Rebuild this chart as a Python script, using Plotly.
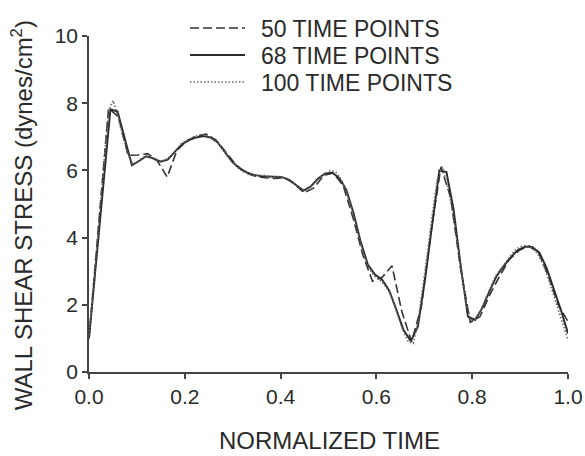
import plotly.graph_objects as go

# ---- data ----
n50 = 50
y50 = [1.0, 4.45, 7.85, 7.6, 6.45, 6.46, 6.5, 6.28, 5.8, 6.6,
       6.88, 7.02, 7.08, 6.9, 6.55, 6.18, 5.93, 5.83, 5.78, 5.76,
       5.78, 5.6, 5.33, 5.48, 5.85, 5.92, 5.55, 4.6, 3.5, 2.7,
       2.82, 3.16, 1.8, 0.9, 1.95, 4.2, 6.1, 5.2, 3.1, 1.48,
       1.65, 2.3, 2.85, 3.35, 3.62, 3.75, 3.55, 2.85, 2.0, 1.5]

n68 = 68
y68 = [1.0, 3.3, 5.6, 7.82, 7.75, 6.95, 6.15, 6.28, 6.42, 6.36,
       6.26, 6.32, 6.55, 6.78, 6.9, 6.98, 7.02, 6.98, 6.83, 6.55,
       6.26, 6.07, 5.95, 5.87, 5.83, 5.82, 5.81, 5.80, 5.72, 5.57,
       5.40, 5.52, 5.75, 5.90, 5.93, 5.78, 5.42, 4.73, 3.88, 3.2,
       2.9, 2.75, 2.42, 1.85, 1.25, 0.92, 1.35, 2.75, 4.45, 6.0,
       5.95, 4.83, 3.15, 1.65, 1.55, 1.9, 2.4, 2.85, 3.15, 3.42,
       3.63, 3.73, 3.72, 3.55, 3.1, 2.5, 1.85, 1.15]

n100 = 100
y100 = [1.0, 2.7, 4.4, 6.1, 7.75, 8.08, 7.6, 7.0, 6.5, 6.2,
        6.25, 6.38, 6.42, 6.36, 6.3, 6.27, 6.33, 6.45, 6.62, 6.78,
        6.88, 6.95, 7.02, 7.06, 7.05, 7.0, 6.9, 6.75, 6.55, 6.35,
        6.18, 6.05, 5.95, 5.9, 5.86, 5.85, 5.86, 5.82, 5.83, 5.82,
        5.8, 5.75, 5.65, 5.55, 5.43, 5.4, 5.52, 5.68, 5.82, 5.92,
        6.0, 5.95, 5.75, 5.45, 5.0, 4.45, 3.9, 3.4, 3.05, 2.85,
        2.75, 2.6, 2.4, 2.05, 1.6, 1.2, 0.9, 0.85, 1.5, 2.5,
        3.6, 4.75, 5.75, 6.12, 5.6, 4.9, 3.9, 2.9, 2.0, 1.55,
        1.6, 1.85, 2.2, 2.55, 2.85, 3.05, 3.25, 3.45, 3.62, 3.72,
        3.76, 3.74, 3.65, 3.45, 3.15, 2.75, 2.3, 1.85, 1.4, 0.95]

x50 = [k / (n50 - 1) for k in range(n50)]
x68 = [k / (n68 - 1) for k in range(n68)]
x100 = [k / (n100 - 1) for k in range(n100)]

series_names = ["50 TIME POINTS", "68 TIME POINTS", "100 TIME POINTS"]
y_ticks = [0, 2, 4, 6, 8, 10]
x_ticks = [0.0, 0.2, 0.4, 0.6, 0.8, 1.0]
x_title = "NORMALIZED TIME"
y_title = "WALL SHEAR STRESS (dynes/cm<sup>2</sup>)"

FONT = "Liberation Sans, Arial, sans-serif"
INK = "#2a2a2a"
AX = "#444444"
GAP = "\u00a0\u2009"

fig = go.Figure()
fig.add_trace(go.Scatter(x=x50, y=y50, mode="lines", name=GAP + series_names[0],
                         legend="legend",
                         line=dict(color="#333333", width=1.6, dash="9px,4px")))
fig.add_trace(go.Scatter(x=x68, y=y68, mode="lines", name=GAP + series_names[1],
                         legend="legend2",
                         line=dict(color="#2b2b2b", width=1.9)))
fig.add_trace(go.Scatter(x=x100, y=y100, mode="lines", name=GAP + series_names[2],
                         legend="legend3",
                         line=dict(color="#666666", width=1.6, dash="1.5px,2px")))

row_y = [28, 55, 82]


def leg(py):
    return dict(x=185 / 585, y=1 - py / 456, xref="container", yref="container",
                xanchor="left", yanchor="middle", bgcolor="rgba(0,0,0,0)",
                itemwidth=55, borderwidth=0,
                font=dict(family=FONT, size=23, color=INK))


fig.update_layout(
    width=585, height=456,
    margin=dict(l=89, r=17, t=36, b=84, autoexpand=False),
    paper_bgcolor="white", plot_bgcolor="white",
    font=dict(family=FONT, color=INK, size=21),
    showlegend=True,
    legend=leg(row_y[0]), legend2=leg(row_y[1]), legend3=leg(row_y[2]),
    annotations=[
        dict(text=x_title, xref="paper", yref="paper", x=0.503, y=-0.204,
             xanchor="center", yanchor="middle", showarrow=False,
             font=dict(family=FONT, size=24, color=INK)),
        dict(text=y_title, xref="paper", yref="paper", x=-0.140, y=0.466,
             xanchor="center", yanchor="middle", showarrow=False, textangle=-90,
             font=dict(family=FONT, size=24, color=INK)),
    ],
)
fig.update_xaxes(range=[0, 1], tickvals=x_ticks, ticktext=[f"{v:.1f}" for v in x_ticks],
                 showgrid=False, zeroline=False, showline=True, linecolor=AX,
                 linewidth=1.5, ticks="outside", ticklen=5, tickcolor=AX, tickwidth=1.5,
                 automargin=False, tickfont=dict(size=21, color=INK))
fig.update_yaxes(range=[0, 10], tickvals=y_ticks,
                 showgrid=False, zeroline=False, showline=True, linecolor=AX,
                 linewidth=1.5, ticks="outside", ticklen=5, tickcolor=AX, tickwidth=1.5,
                 automargin=False, tickfont=dict(size=21, color=INK))

fig.write_html("out.html")
